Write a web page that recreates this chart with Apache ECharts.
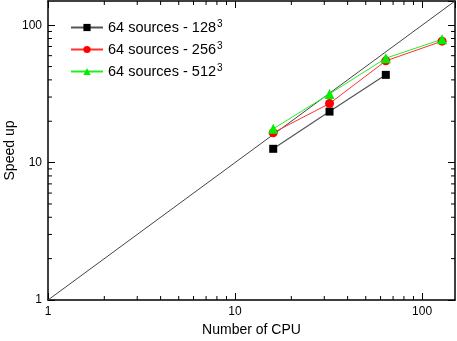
<!DOCTYPE html>
<html>
<head>
<meta charset="utf-8">
<script src="https://cdn.jsdelivr.net/npm/echarts@6/dist/echarts.min.js"></script>
<style>
  html, body { margin: 0; padding: 0; background: #fff; }
  #main { width: 457px; height: 341px; }
</style>
</head>
<body>
<div id="main"></div>
<script>
var cpus = [16, 32, 64, 128];
var speed128 = [12.6, 23.5, 43.5];
var speed256 = [16.5, 26.9, 55, 76.5];
var speed512 = [17.6, 31.6, 57.5, 79];
var ideal = [[1, 1], [150, 150]];

var axisMin = 1, axisMax = 150;
var minorTicks = [2, 3, 4, 5, 6, 7, 8, 9, 20, 30, 40, 50, 60, 70, 80, 90];
var names = ['64 sources - 128', '64 sources - 256', '64 sources - 512'];

var font = 'Liberation Sans';
var minorLen = 4;

function pairs(ys) {
  return ys.map(function (y, i) { return [cpus[i], y]; });
}

// log axis carrying the data and the decade ticks
function logAxis(pos, labels, name) {
  return {
    type: 'log', logBase: 10, min: axisMin, max: axisMax, position: pos,
    name: name || '',
    nameLocation: 'middle',
    nameGap: pos === 'left' ? 31 : 23,
    nameMoveOverlap: false,
    nameTextStyle: {fontFamily: font, fontSize: 14, color: '#000'},
    axisLine: {show: true, onZero: false, lineStyle: {color: '#000', width: 1.5}},
    axisTick: {show: true, inside: true, length: 7, lineStyle: {color: '#000', width: 1}},
    axisLabel: {show: labels, showMaxLabel: false, margin: 6, fontFamily: font, fontSize: 12, color: '#000'},
    splitLine: {show: false}
  };
}

// minor ticks 2..9 on all four sides, placed through the log scales
function renderMinor(params, api) {
  var v = api.value(0);
  var lo = api.coord([axisMin, axisMin]);
  var hi = api.coord([axisMax, axisMax]);
  var p = api.coord([v, v]);
  var st = {stroke: '#000', lineWidth: 1};
  return {
    type: 'group',
    children: [
      {type: 'line', shape: {x1: p[0], y1: lo[1], x2: p[0], y2: lo[1] - minorLen}, style: st},
      {type: 'line', shape: {x1: p[0], y1: hi[1], x2: p[0], y2: hi[1] + minorLen}, style: st},
      {type: 'line', shape: {x1: lo[0], y1: p[1], x2: lo[0] + minorLen, y2: p[1]}, style: st},
      {type: 'line', shape: {x1: hi[0], y1: p[1], x2: hi[0] - minorLen, y2: p[1]}, style: st}
    ]
  };
}

var myChart = echarts.init(document.getElementById('main'));

var option = {
  animation: false,
  grid: {left: 48, right: 2, top: 1, bottom: 41, outerBoundsMode: 'none', containLabel: false},
  legend: {
    left: 70, top: 19, orient: 'vertical', itemGap: 6, padding: 0,
    itemWidth: 32, itemHeight: 9,
    data: names,
    formatter: function (n) { return '{a|' + n + '}{s|3}'; },
    textStyle: {
      fontFamily: font, fontSize: 14.5, color: '#000',
      rich: {
        a: {fontFamily: font, fontSize: 14.5, color: '#000'},
        s: {fontFamily: font, fontSize: 10, color: '#000', verticalAlign: 'top', padding: [0, 0, 7, 1]}
      }
    }
  },
  xAxis: [
    logAxis('bottom', true, 'Number of CPU'),
    logAxis('top', false)
  ],
  yAxis: [
    logAxis('left', true, 'Speed up'),
    logAxis('right', false)
  ],
  series: [
    {
      name: 'minor', type: 'custom', silent: true, clip: false,
      data: minorTicks.map(function (v) { return [v, v]; }),
      encode: {x: 0, y: 1},
      renderItem: renderMinor
    },
    {
      name: 'ideal', type: 'line', data: ideal, showSymbol: false, silent: true,
      lineStyle: {color: '#444', width: 1}
    },
    {
      name: names[0], type: 'line', data: pairs(speed128),
      symbol: 'rect', symbolSize: 8,
      itemStyle: {color: '#000'}, lineStyle: {color: '#555', width: 1.2}
    },
    {
      name: names[1], type: 'line', data: pairs(speed256),
      symbol: 'circle', symbolSize: 9,
      itemStyle: {color: '#ff0000'}, lineStyle: {color: '#ff3030', width: 1}
    },
    {
      name: names[2], type: 'line', data: pairs(speed512),
      symbol: 'triangle', symbolSize: 10,
      itemStyle: {color: '#00ee00'}, lineStyle: {color: '#22ee22', width: 1}
    }
  ]
};

myChart.setOption(option);
</script>
</body>
</html>
